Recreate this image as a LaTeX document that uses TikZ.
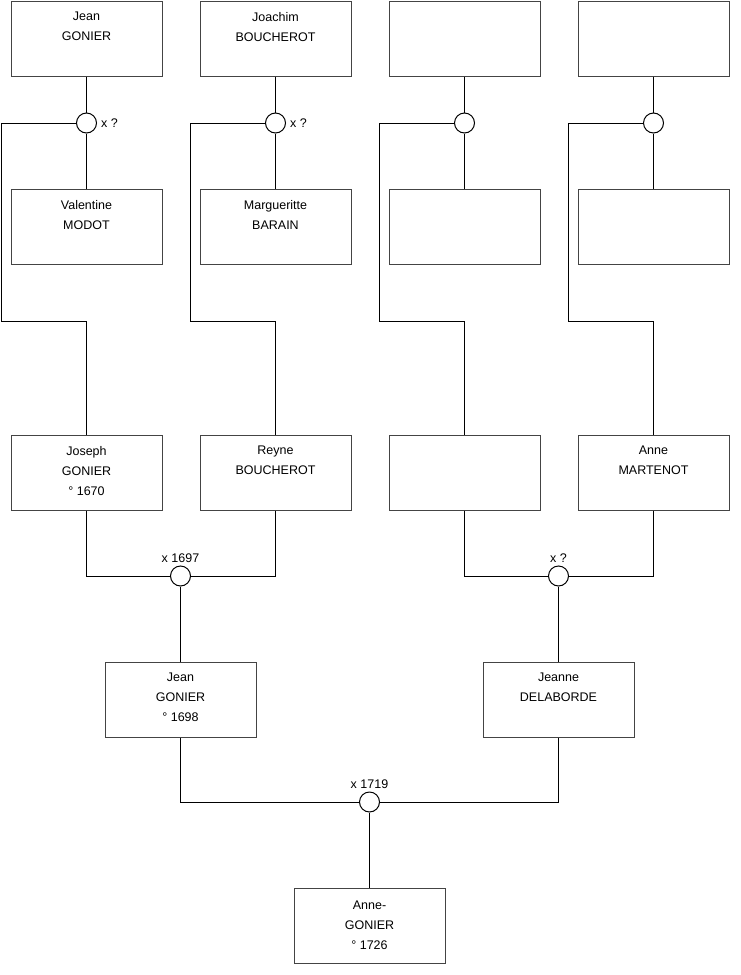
\documentclass[tikz,border=0pt]{standalone}
\usepackage{fontspec}
\setmainfont{Liberation Sans}
\usepackage{tikz}
\usetikzlibrary{positioning}
\definecolor{BoxLine}{HTML}{444444}

\begin{document}
\begin{tikzpicture}[x=1pt,y=-1pt,
  person/.style={draw=BoxLine,line width=1pt,minimum width=151pt,
    minimum height=75pt,inner sep=0pt},
  names/.style={anchor=north,align=center,inner sep=0pt,
    font=\fontsize{12.5}{20}\selectfont},
  union/.style={circle,draw=black,fill=white,line width=1pt,
    minimum size=20pt,inner sep=0pt},
  note/.style={inner sep=0pt,font=\fontsize{12.5}{14}\selectfont},
  link/.style={line width=1pt,color=black}
]
  \useasboundingbox (0,0) rectangle (740,975);
  % great-grandparents
  \node[person] (gJean) at (86.5,38.5) {};
  \node[person] (gJoachim) at (275.5,38.5) {};
  \node[person] (gUnk1) at (464.5,38.5) {};
  \node[person] (gUnk2) at (653.5,38.5) {};
  \node[person] (gValentine) at (86.5,227) {};
  \node[person] (gMarg) at (275.5,227) {};
  \node[person] (gUnk3) at (464.5,227) {};
  \node[person] (gUnk4) at (653.5,227) {};
  \node[names] (tJean) at ([yshift=-11.5pt]gJean.north) {Jean\\GONIER};
  \node[names] (tJoachim) at ([yshift=-11.5pt]gJoachim.north) {Joachim\\BOUCHEROT};
  \node[names] (tValentine) at ([yshift=-11.5pt]gValentine.north) {Valentine\\MODOT};
  \node[names] (tMarg) at ([yshift=-11.5pt]gMarg.north) {Margueritte\\BARAIN};
  % grandparents
  \node[person] (pJoseph) at (86.5,472.5) {};
  \node[person] (pReyne) at (275.5,472.5) {};
  \node[person] (pUnk) at (464.5,472.5) {};
  \node[person] (pAnne) at (653.5,472.5) {};
  \node[names] (tJoseph) at ([yshift=-11.5pt]pJoseph.north) {Joseph\\GONIER\\\textdegree{} 1670};
  \node[names] (tReyne) at ([yshift=-11.5pt]pReyne.north) {Reyne\\BOUCHEROT};
  \node[names] (tAnne) at ([yshift=-11.5pt]pAnne.north) {Anne\\MARTENOT};
  % parents and child
  \node[person] (fJean) at (180.5,699.5) {};
  \node[person] (fJeanne) at (558.5,699.5) {};
  \node[person] (cAnne) at (369.5,926) {};
  \node[names] (tfJean) at ([yshift=-11.5pt]fJean.north) {Jean\\GONIER\\\textdegree{} 1698};
  \node[names] (tfJeanne) at ([yshift=-11.5pt]fJeanne.north) {Jeanne\\DELABORDE};
  \node[names] (tcAnne) at ([yshift=-13pt]cAnne.north) {Anne-\\GONIER\\\textdegree{} 1726};
  % marriages
  \node[union] (m1) at (86.5,123) {};
  \node[union] (m2) at (275.5,123) {};
  \node[union] (m3) at (464.5,123) {};
  \node[union] (m4) at (653.5,123) {};
  \node[union] (m5) at (180.5,576) {};
  \node[union] (m6) at (558.5,576) {};
  \node[union] (m7) at (369.5,802) {};
  \node[note,right=4pt of m1] (x1) {x ?};
  \node[note,right=4pt of m2] (x2) {x ?};
  \node[note,above=3pt of m5] (x5) {x 1697};
  \node[note,above=3pt of m6] (x6) {x ?};
  \node[note,above=3pt of m7] (x7) {x 1719};
  % links
  \foreach \g/\m/\s in {gJean/m1/gValentine,gJoachim/m2/gMarg,
      gUnk1/m3/gUnk3,gUnk2/m4/gUnk4} {
    \draw[link] (\g) -- (\m);
    \draw[link] (\m) -- (\s);
  }
  \draw[link] (m1.west) -- (1,123) -- (1,321) -| (pJoseph.north);
  \draw[link] (m2.west) -- (190,123) -- (190,321) -| (pReyne.north);
  \draw[link] (m3.west) -- (379,123) -- (379,321) -| (pUnk.north);
  \draw[link] (m4.west) -- (568,123) -- (568,321) -| (pAnne.north);
  \draw[link] (pJoseph.south) |- (m5.west);
  \draw[link] (pReyne.south) |- (m5.east);
  \draw[link] (pUnk.south) |- (m6.west);
  \draw[link] (pAnne.south) |- (m6.east);
  \draw[link] (m5) -- (fJean);
  \draw[link] (m6) -- (fJeanne);
  \draw[link] (fJean.south) |- (m7.west);
  \draw[link] (fJeanne.south) |- (m7.east);
  \draw[link] (m7) -- (cAnne);
\end{tikzpicture}
\end{document}
